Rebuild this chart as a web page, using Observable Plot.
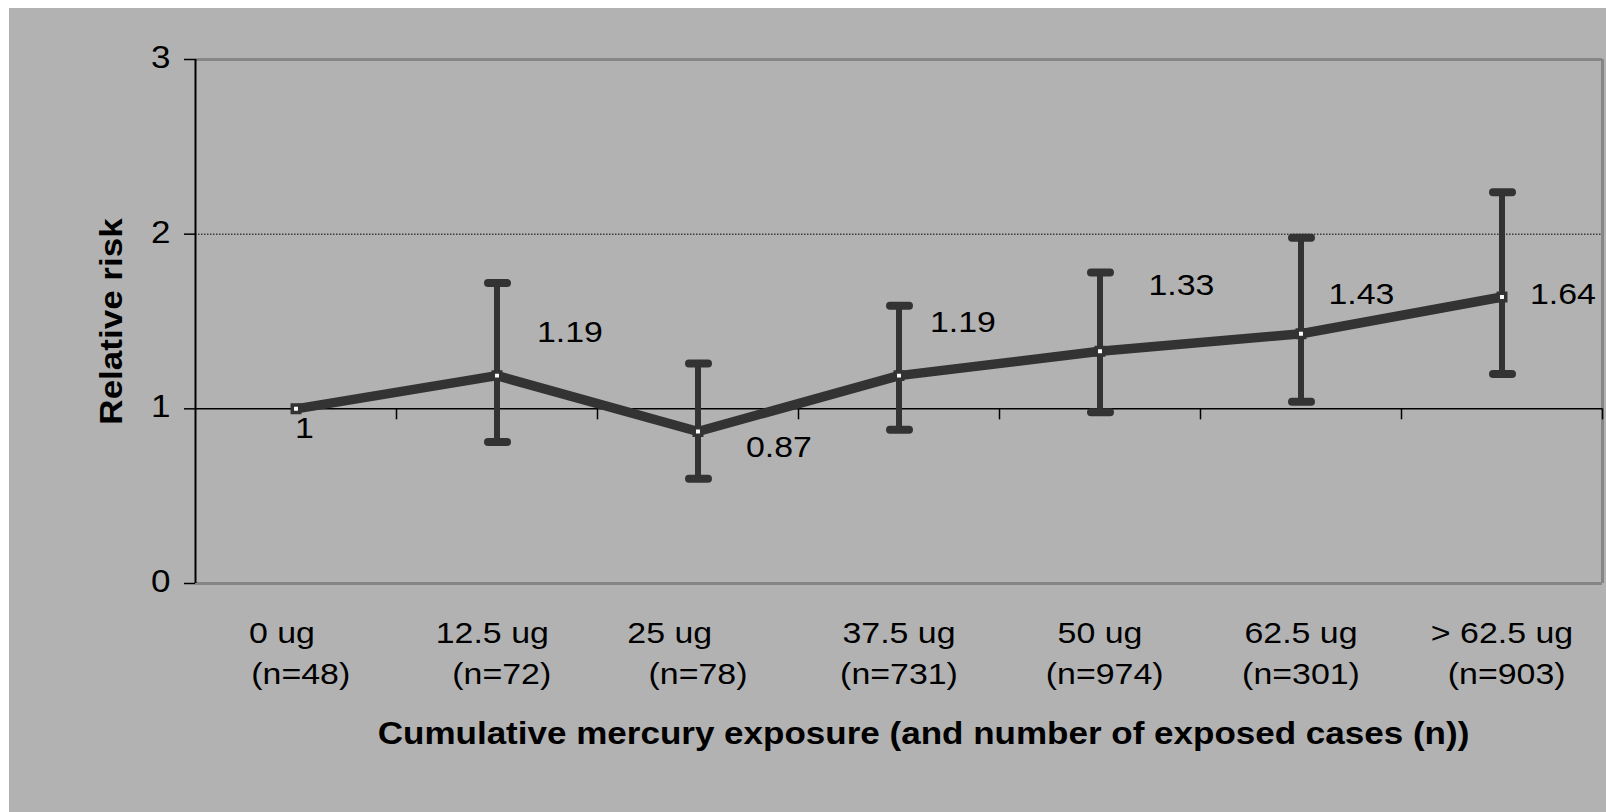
<!DOCTYPE html>
<html>
<head>
<meta charset="utf-8">
<script src="https://cdn.jsdelivr.net/npm/d3@7"></script>
<script src="https://cdn.jsdelivr.net/npm/@observablehq/plot@0.6"></script>
<style>
  html, body { margin: 0; padding: 0; background: #ffffff; }
  #chart svg {
    display: block;
    max-width: none !important;
    background: linear-gradient(#b2b2b2, #b2b2b2) 9px 8px / 100% 100% no-repeat, #ffffff !important;
  }
  #chart svg text, #chart svg tspan { white-space: pre; }
</style>
</head>
<body>
<div id="chart"></div>
<script>
// ---- data ----
const categories = ["0 ug", "12.5 ug", "25 ug", "37.5 ug", "50 ug", "62.5 ug", "> 62.5 ug"];
const tickLine1 = ["0 ug   ", "12.5 ug ", "25 ug      ", "37.5 ug", "50 ug", "62.5 ug", "> 62.5 ug"];
const tickLine2 = [" (n=48)", " (n=72)", "(n=78)", "(n=731)", " (n=974)", "(n=301)", " (n=903)"];
const relativeRisk = [1, 1.19, 0.87, 1.19, 1.33, 1.43, 1.64];
const ciLow  = [null, 0.81, 0.60, 0.88, 0.98, 1.04, 1.20];
const ciHigh = [null, 1.72, 1.26, 1.59, 1.78, 1.98, 2.24];
const valueLabels = ["1", "1.19", "0.87", "1.19", "1.33", "1.43", "1.64"];
const yTicks = [0, 1, 2, 3];
const yTitle = "Relative risk";
const xTitle = "Cumulative mercury exposure (and number of exposed cases (n))";

// ---- build table ----
const rows = categories.map((c, i) => ({
  i, c, rr: relativeRisk[i], lo: ciLow[i], hi: ciHigh[i],
  label: valueLabels[i], l1: tickLine1[i], l2: tickLine2[i]
}));
const ciRows = rows.filter(d => d.lo != null);
const boundaries = rows.map(d => d.i + 0.5);
const xDomain = [-0.5, categories.length - 0.5];

// ---- styling ----
const DARK = "#333333", FRAME = "#868686", INK = "#000000";
const labelNudge = [[-1, 29], [40, -33.5], [48, 25.3], [31, -44], [48.5, -55.7], [27.5, -30], [28, 7]];

const chart = Plot.plot({
  width: 1606,
  height: 812,
  marginLeft: 195,
  marginRight: 4,
  marginTop: 59,
  marginBottom: 229,
  x: {domain: xDomain, axis: null},
  y: {domain: [yTicks[0], yTicks[yTicks.length - 1]], axis: null},
  style: {fontFamily: "'Liberation Sans', Arial, Helvetica, sans-serif", color: INK},
  marks: [
    // dotted gridline at 2
    Plot.ruleY([2], {stroke: INK, strokeWidth: 1, strokeDasharray: "1.5,1.5"}),
    // grey plot frame (top, bottom, right)
    Plot.ruleY([yTicks[0], yTicks[yTicks.length - 1]], {stroke: FRAME, strokeWidth: 3}),
    Plot.ruleX([xDomain[1]], {stroke: FRAME, strokeWidth: 3}),
    // category axis crossing at 1
    Plot.ruleY([1], {stroke: INK, strokeWidth: 1.5}),
    Plot.ruleX(boundaries, {x: d => d, y1: 1, y2: 1, insetBottom: -11, stroke: INK, strokeWidth: 1.5}),
    // value axis
    Plot.ruleX([xDomain[0]], {stroke: INK, strokeWidth: 2}),
    Plot.ruleY(yTicks, {y: d => d, x1: xDomain[0], x2: xDomain[0], insetLeft: -11, stroke: INK, strokeWidth: 1.5}),
    Plot.text(yTicks, {y: d => d, text: d => String(d), frameAnchor: "left", textAnchor: "end", dx: -25, dy: -1.5, fontSize: 31, fill: INK}),
    // error bars
    Plot.ruleX(ciRows, {x: "i", y1: "lo", y2: "hi", stroke: DARK, strokeWidth: 6}),
    Plot.ruleY(ciRows, {x1: "i", x2: "i", y: "lo", insetLeft: -9.5, insetRight: -9.5, dx: 1, stroke: DARK, strokeWidth: 8, strokeLinecap: "round"}),
    Plot.ruleY(ciRows, {x1: "i", x2: "i", y: "hi", insetLeft: -9.5, insetRight: -9.5, dx: 1, stroke: DARK, strokeWidth: 8, strokeLinecap: "round"}),
    // line + markers
    Plot.line(rows, {x: "i", y: "rr", stroke: DARK, strokeWidth: 9.5, strokeLinejoin: "miter", strokeLinecap: "butt"}),
    Plot.dot(rows, {x: "i", y: "rr", symbol: "square", r: 4.2, fill: "#ffffff", stroke: DARK, strokeWidth: 3.5}),
    // value labels
    ...rows.map((d, k) => Plot.text([d], {
      x: "i", y: "rr", text: "label", textAnchor: "start", lineAnchor: "bottom",
      dx: labelNudge[k][0], dy: labelNudge[k][1], fontSize: 30, fill: INK
    })),
    // category labels (two lines)
    Plot.text(rows, {x: "i", text: "l1", frameAnchor: "bottom", lineAnchor: "bottom", dy: 59, fontSize: 30, fill: INK}),
    Plot.text(rows, {x: "i", text: "l2", frameAnchor: "bottom", lineAnchor: "bottom", dy: 100, fontSize: 30, fill: INK}),
    // axis titles
    Plot.text([yTitle], {frameAnchor: "left", textAnchor: "middle", rotate: -90, dx: -83.5, fontSize: 31, fontWeight: "bold", fill: INK}),
    Plot.text([xTitle], {frameAnchor: "bottom", textAnchor: "middle", lineAnchor: "bottom", dx: 24.5, dy: 160, fontSize: 31, fontWeight: "bold", fill: INK})
  ]
});

// the reference's type is set slightly wide: stretch glyphs along their reading direction
const STRETCH = 1.13;
chart.querySelectorAll("text").forEach(t => {
  const tr = t.getAttribute("transform");
  if (tr) {
    t.setAttribute("transform", tr + ` scale(${STRETCH},1)`);
  } else {
    const x = parseFloat(t.getAttribute("x")) || 0;
    const y = t.getAttribute("y");
    const yNum = y && !/em$/.test(y) ? parseFloat(y) : 0;
    if (x) t.removeAttribute("x");
    if (yNum) t.removeAttribute("y");
    t.setAttribute("transform", `translate(${x},${yNum}) scale(${STRETCH},1)`);
  }
});

document.getElementById("chart").append(chart);
</script>
</body>
</html>
